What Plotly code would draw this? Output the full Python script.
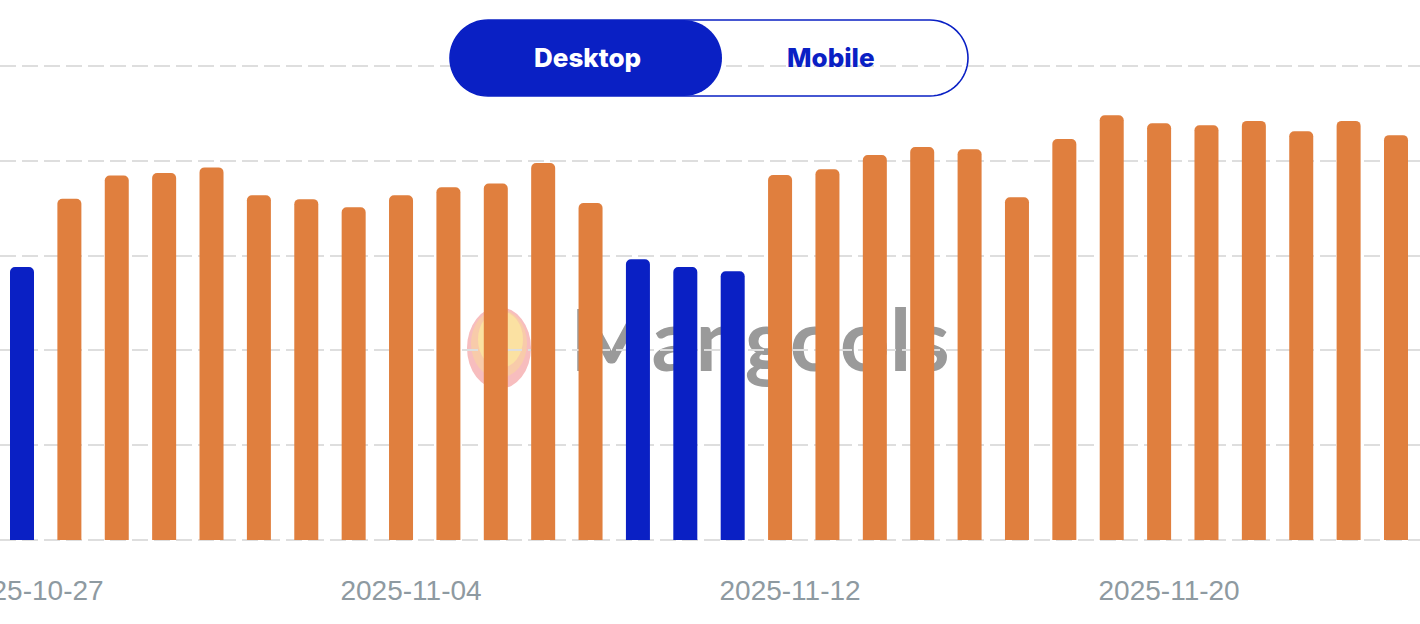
import math
import pandas as pd
import plotly.graph_objects as go

# ---------------- data ----------------
dates = [d.strftime("%Y-%m-%d") for d in pd.date_range("2025-10-27", "2025-11-25", freq="D")]
values = [57.6, 72.0, 76.9, 77.4, 78.6, 72.7, 71.9, 70.2, 72.7, 74.4,
          75.2, 79.5, 71.1, 59.2, 57.6, 56.7, 77.0, 78.2, 81.2, 82.9,
          82.4, 72.3, 84.6, 89.6, 87.9, 87.5, 88.4, 86.2, 88.4, 85.4]
blue_dates = ["2025-10-27", "2025-11-09", "2025-11-10", "2025-11-11"]
tick_dates = ["2025-10-27", "2025-11-04", "2025-11-12", "2025-11-20"]
toggle_labels = ["Desktop", "Mobile"]
watermark_text = "Mangools"

ORANGE = "#E07F3E"
BLUE = "#0A20C4"
colors = [BLUE if d in blue_dates else ORANGE for d in dates]

# ---------------- geometry ----------------
W, H = 1420, 624
Y_LO, Y_HI = -0.4, 100.4
PXU = 4.74  # pixels per value unit
MT = int(round(66 - (Y_HI - 100) * PXU))
MB = int(round(H - 540.5 - (0 - Y_LO) * PXU))
PH = H - MT - MB
PLOT_BOTTOM = H - MB


def px2x(px):
    return px / W


def py2y(py):
    return (PLOT_BOTTOM - py) / PH


day_px = (1396 - 22) / 29.0
t0 = pd.Timestamp("2025-10-27")
x_start = t0 - pd.Timedelta(days=22 / day_px)
x_end = t0 + pd.Timedelta(days=(W - 22) / day_px)


def pill_path(w, r, n=32):
    pts = []
    for k in range(n + 1):
        a = -math.pi / 2 + math.pi * k / n
        pts.append((w - r + r * math.cos(a), r * math.sin(a)))
    for k in range(n + 1):
        a = math.pi / 2 + math.pi * k / n
        pts.append((r + r * math.cos(a), r * math.sin(a)))
    return "M " + " L ".join(f"{x:.2f},{y:.2f}" for x, y in pts) + " Z"


fig = go.Figure()
fig.add_trace(go.Bar(
    x=dates, y=values,
    marker=dict(color=colors, cornerradius=5, line=dict(width=0)),
    width=24 / day_px * 86400000,
    hoverinfo="skip",
))

shapes = []
# watermark logo (below grid)
shapes.append(dict(type="circle", xref="paper", yref="paper", layer="below",
                   x0=px2x(467), x1=px2x(531), y0=py2y(389), y1=py2y(307),
                   fillcolor="#F7BDBE", line=dict(width=0)))
shapes.append(dict(type="circle", xref="paper", yref="paper", layer="below",
                   x0=px2x(471), x1=px2x(527), y0=py2y(378), y1=py2y(309),
                   fillcolor="#F8CBAA", line=dict(width=0)))
shapes.append(dict(type="circle", xref="paper", yref="paper", layer="below",
                   x0=px2x(478), x1=px2x(523), y0=py2y(368), y1=py2y(311),
                   fillcolor="#FBE1A2", line=dict(width=0)))
# watermark text
shapes.append(dict(type="rect", xref="paper", yref="paper", layer="below",
                   x0=px2x(560), x1=px2x(960), y0=py2y(389), y1=py2y(284),
                   fillcolor="rgba(0,0,0,0)", line=dict(width=0),
                   label=dict(text=watermark_text, textposition="middle center",
                              font=dict(family="Lato", size=87, color="#9A9A9A", weight=700))))
# toggle outline
shapes.append(dict(type="path", xref="paper", yref="paper", layer="above",
                   xsizemode="pixel", ysizemode="pixel",
                   xanchor=px2x(450), yanchor=py2y(58),
                   path=pill_path(518, 38),
                   fillcolor="rgba(0,0,0,0)", line=dict(color=BLUE, width=1.6)))
# toggle active part
shapes.append(dict(type="path", xref="paper", yref="paper", layer="above",
                   xsizemode="pixel", ysizemode="pixel",
                   xanchor=px2x(450), yanchor=py2y(58),
                   path=pill_path(272, 38),
                   fillcolor=BLUE, line=dict(width=0)))

annotations = [
    dict(text=toggle_labels[0], xref="paper", yref="paper", x=px2x(587), y=py2y(58),
         showarrow=False, xanchor="center", yanchor="middle",
         font=dict(family="Inter", size=26, color="white", weight=800)),
    dict(text=toggle_labels[1], xref="paper", yref="paper", x=px2x(831), y=py2y(58),
         showarrow=False, xanchor="center", yanchor="middle",
         font=dict(family="Inter", size=26, color=BLUE, weight=800)),
]

fig.update_layout(
    width=W, height=H,
    margin=dict(l=0, r=0, t=MT, b=MB, pad=0, autoexpand=False),
    paper_bgcolor="white", plot_bgcolor="white",
    showlegend=False,
    shapes=shapes,
    annotations=annotations,
    xaxis=dict(
        type="date",
        range=[x_start, x_end],
        tickvals=tick_dates,
        tickformat="%Y-%m-%d",
        showgrid=False, zeroline=False, showline=False, ticks="",
        tickfont=dict(family="Liberation Sans", size=28, color="#8E9AA1"),
        ticklabelshift=10,
        ticklabelstandoff=29,
        ticklabeloverflow="allow",
        automargin=False,
        fixedrange=True,
    ),
    yaxis=dict(
        range=[Y_LO, Y_HI],
        dtick=20, tick0=0,
        showticklabels=False,
        showgrid=True, gridcolor="#DEDEDE", gridwidth=2, griddash="16px,6px",
        zeroline=False, showline=False, ticks="",
        automargin=False,
        fixedrange=True,
    ),
)

fig.write_html("out.html", config=dict(displayModeBar=False))
